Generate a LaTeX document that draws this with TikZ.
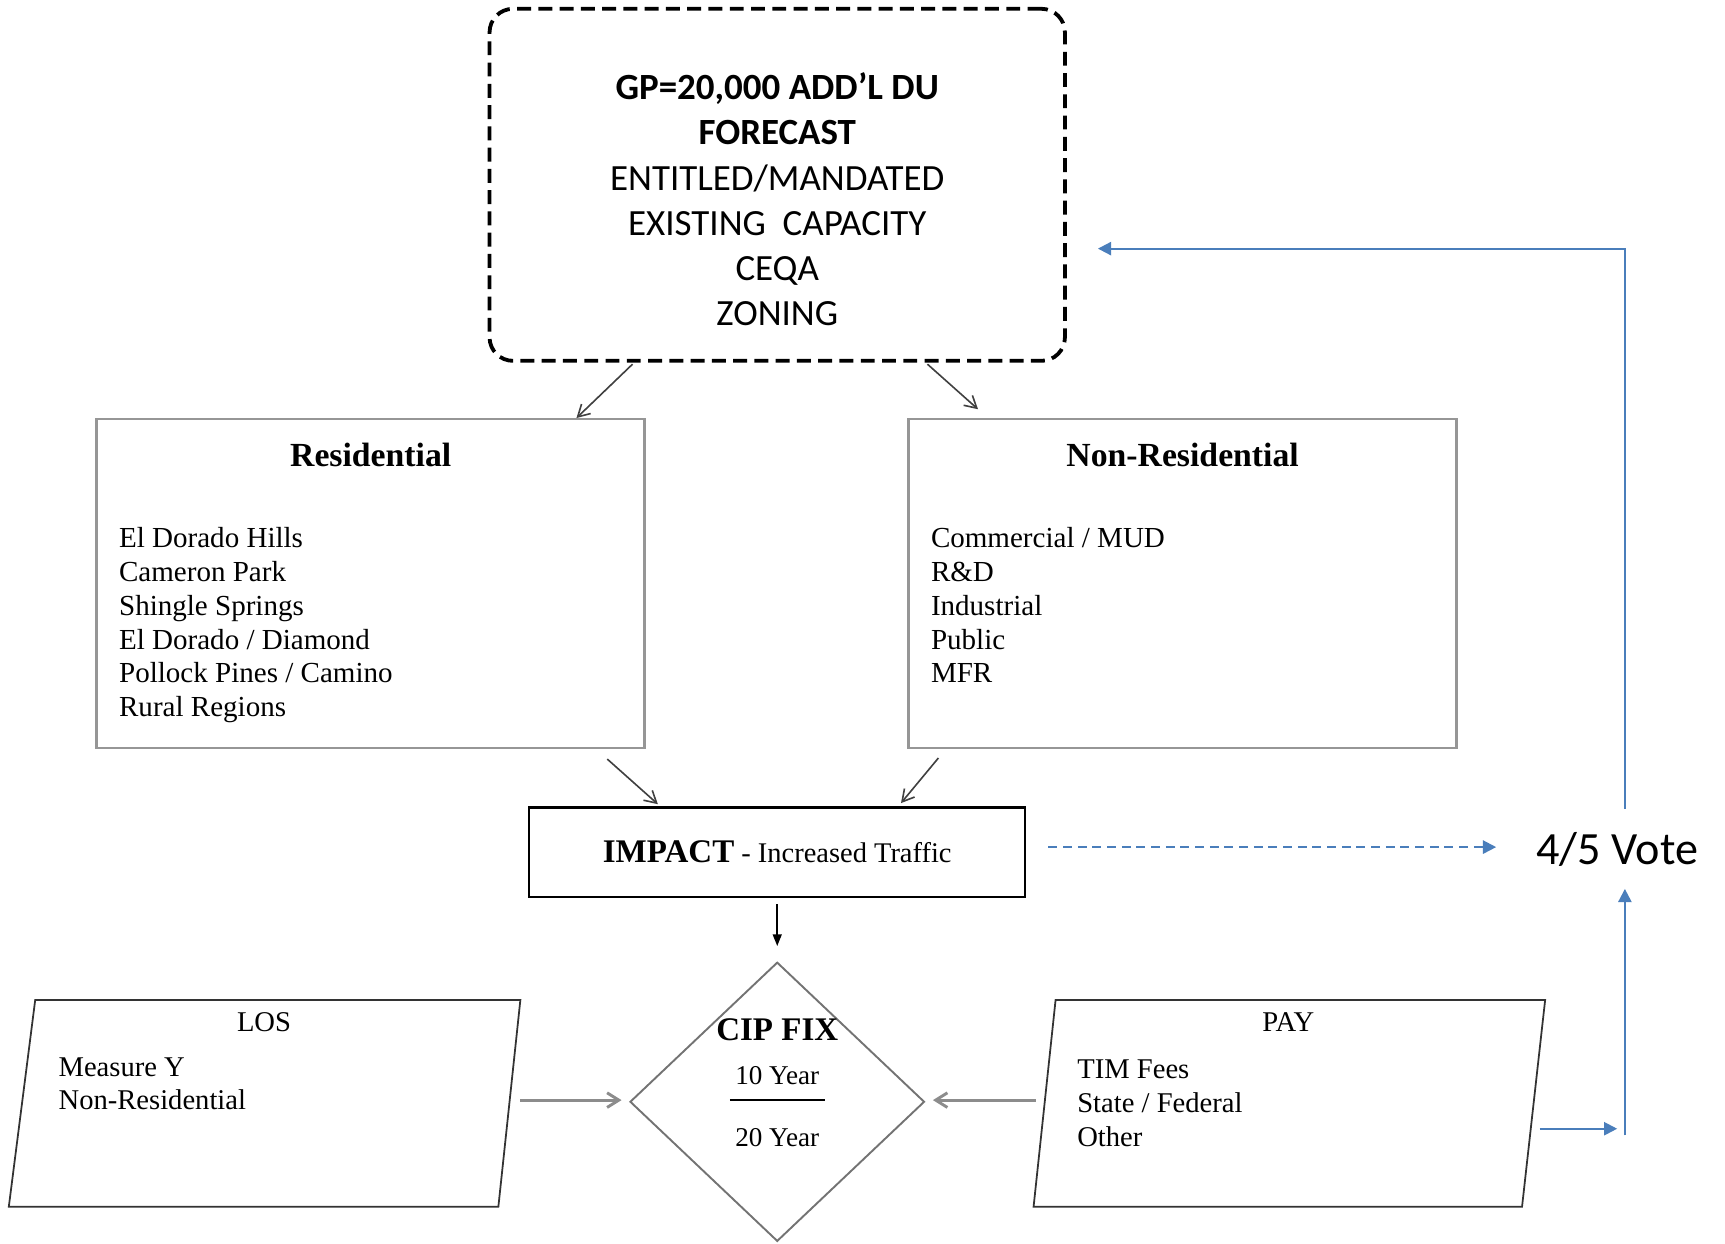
\documentclass[tikz,border=0pt]{standalone}
\usepackage{fontspec}
\setmainfont{Liberation Serif}
\newfontfamily\calibri{Carlito}
\usetikzlibrary{arrows.meta,shapes.geometric,calc}
\definecolor{voteblue}{RGB}{74,126,187}
\definecolor{boxgray}{RGB}{150,150,150}

\begin{document}
\begin{tikzpicture}[x=0.75pt,y=0.75pt,yscale=-1,xscale=1,
  graybox/.style={draw=boxgray, line width=1.8pt, minimum width=373.5pt, minimum height=224.25pt, inner sep=0pt, outer sep=0pt},
  slantframe/.style={minimum width=348.75pt, minimum height=141pt, inner sep=0pt, outer sep=0pt},
  slantline/.style={draw=black!80, line width=1.2pt, line join=miter},
  grayarrow/.style={draw=black!75, line width=1.1pt, -{Straight Barb[length=8pt,width=9pt]}},
  thickarrow/.style={draw=black!45, line width=2pt, -{Straight Barb[length=8pt,width=10pt]}},
  bluearrow/.style={draw=voteblue, line width=1.4pt, -{Triangle[length=9pt,width=9pt]}},
  listtext/.style={anchor=north west, align=left, inner sep=0pt},
  label/.style={inner sep=0pt}]
\useasboundingbox (0,0) rectangle (1568,1130);

%Rounded Rect [id:gp]
\node (gp) at (706.5,168) [draw, line width=2.6pt, dash pattern=on 9.5pt off 5pt, rounded corners=16pt, minimum width=392.25pt, minimum height=240pt, inner sep=0pt, outer sep=0pt] {};
%Shape: Rectangle [id:res]
\node (res) at (337,530.5) [graybox] {};
%Shape: Rectangle [id:nonres]
\node (nonres) at (1075,530.5) [graybox] {};
%Shape: Rectangle [id:impact]
\node (impact) at (706.5,774.5) [draw, line width=1.5pt, minimum width=338.25pt, minimum height=60.75pt, inner sep=0pt, outer sep=0pt, font=\fontsize{19.4}{23}\selectfont] {{\fontsize{22.5}{26}\selectfont\bfseries IMPACT} - Increased Traffic};
%Shape: Diamond [id:cip]
\node (cip) at (706.5,1001.5) [diamond, draw=black!55, line width=1.3pt, minimum width=200.25pt, minimum height=189.75pt, inner sep=0pt, outer sep=0pt] {};
%Shape: Parallelogram [id:los]
\node (los) at (240.5,1003) [slantframe] {};
\draw [slantline] ($(los.north west)+(24,0)$) -- (los.north east) -- ($(los.south east)+(-20,0)$) -- (los.south west) -- cycle;
%Shape: Parallelogram [id:pay]
\node (pay) at (1172,1003) [slantframe] {};
\draw [slantline] ($(pay.north west)+(20,0)$) -- (pay.north east) -- ($(pay.south east)+(-21,0)$) -- (pay.south west) -- cycle;

% Text Node
\node (gptext) at (706.5,66) [anchor=north, align=center, inner sep=0pt, font=\calibri\fontsize{25.2}{30.75}\selectfont] {\textbf{GP=20,000 ADD’L DU}\\\textbf{FORECAST}\\ENTITLED/MANDATED\\EXISTING \ CAPACITY\\CEQA\\ZONING};
% Text Node
\node (restitle) at (337,414) [label, font=\fontsize{23}{27}\selectfont\bfseries] {Residential};
% Text Node
\node (reslist) at (108,479) [listtext, font=\fontsize{19.8}{23.1}\selectfont] {El Dorado Hills\\Cameron Park\\Shingle Springs\\El Dorado / Diamond\\Pollock Pines / Camino\\Rural Regions};
% Text Node
\node (nonrestitle) at (1075,414) [label, font=\fontsize{23}{27}\selectfont\bfseries] {Non-Residential};
% Text Node
\node (nonreslist) at (846,479) [listtext, font=\fontsize{19.8}{23.1}\selectfont] {Commercial / MUD\\R\&D\\Industrial\\Public\\MFR};
% Text Node
\node (ciptitle) at (706.5,936) [label, font=\fontsize{22.5}{26}\selectfont\bfseries] {CIP FIX};
% Text Node
\node (tenyr) at (706.5,978) [label, font=\fontsize{18.5}{22}\selectfont] {10 Year};
% Text Node
\node (twentyyr) at (706.5,1034) [label, font=\fontsize{18.5}{22}\selectfont] {20 Year};
% Text Node
\node (lostitle) at (240,929) [label, font=\fontsize{19.5}{23}\selectfont] {LOS};
% Text Node
\node (loslist) at (53,961) [listtext, font=\fontsize{19.5}{22.5}\selectfont] {Measure Y\\Non-Residential};
% Text Node
\node (paytitle) at (1171,929) [label, font=\fontsize{19.5}{23}\selectfont] {PAY};
% Text Node
\node (paylist) at (979,963) [listtext, font=\fontsize{19.5}{23.25}\selectfont] {TIM Fees\\State / Federal\\Other};
% Text Node
\node (vote) at (1470,772) [label, font=\calibri\fontsize{31.5}{36}\selectfont] {4/5 Vote};

%Straight Lines [id:divider]
\draw [line width=1.5pt] ($(cip.center)+(-43,-1.5)$) -- ($(cip.center)+(43,-1.5)$);

%Straight Lines [id:gp-res]
\draw [grayarrow] ($(gp.south)+(-131.5,3)$) -- ($(res.north)+(187,-1)$);
%Straight Lines [id:gp-nonres]
\draw [grayarrow] ($(gp.south)+(136.5,3)$) -- ($(nonres.north)+(-186,-9)$);
%Straight Lines [id:res-impact]
\draw [grayarrow] ($(res.south)+(215,10)$) -- ($(impact.north)+(-108.5,-3)$);
%Straight Lines [id:nonres-impact]
\draw [grayarrow] ($(nonres.south)+(-222,9)$) -- ($(impact.north)+(112.5,-4)$);
%Straight Lines [id:impact-cip]
\draw [line width=1.2pt, -{Triangle[length=8pt,width=6pt]}] ($(impact.south)+(0,7)$) -- ($(cip.north)+(0,-15)$);
%Straight Lines [id:los-cip]
\draw [thickarrow] ($(los.east)+(0,-3)$) -- ($(cip.west)+(-8,-1.5)$);
%Straight Lines [id:pay-cip]
\draw [thickarrow] ($(pay.west)+(2,-3)$) -- ($(cip.east)+(8,-1.5)$);

%Straight Lines [id:impact-vote]
\draw [bluearrow, dash pattern=on 6pt off 4pt] ($(impact.east)+(21,-4.5)$) -- ($(vote.center)+(-110,-2)$);
%Straight Lines [id:vote-gp]
\draw [bluearrow] ($(vote.center)+(7,-37)$) |- ($(gp.east)+(30,58)$);
%Straight Lines [id:pay-out]
\draw [bluearrow] ($(pay.east)+(-5,23)$) -- ($(vote.center)+(0,254)$);
%Straight Lines [id:out-vote]
\draw [bluearrow] ($(vote.center)+(7,260)$) -- ($(vote.center)+(7,36)$);

\end{tikzpicture}
\end{document}
